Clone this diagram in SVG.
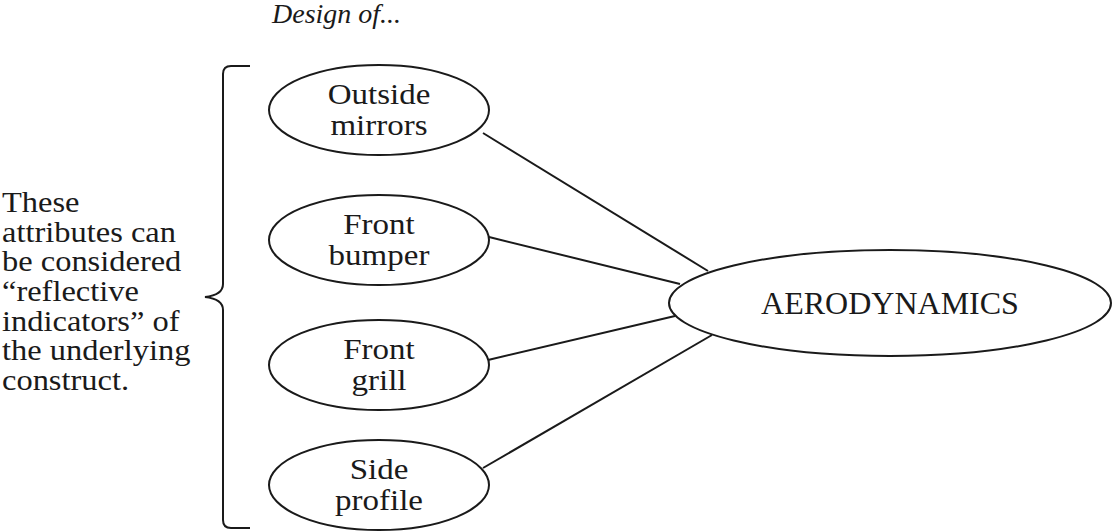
<svg xmlns="http://www.w3.org/2000/svg" width="1112" height="532" viewBox="0 0 1112 532">
<style>
.n{fill:#fff;stroke:#1a1a1a;stroke-width:2}
.t{font-family:"Liberation Serif",serif;font-size:30px;fill:#1a1a1a;text-anchor:middle}
.l{font-family:"Liberation Serif",serif;font-size:29px;fill:#1a1a1a}
.c{stroke:#1a1a1a;stroke-width:2;fill:none}
</style>
<rect width="1112" height="532" fill="#fff"/>
<text x="272" y="23" class="l" style="font-style:italic;font-size:28px">Design of...</text>
<g id="brace">
<path class="c" d="M250,66 L231,66 Q223,66 223,74 L223,284 Q223,295 205,297 Q223,299 223,310 L223,520 Q223,528 231,528 L250,528"/>
</g>
<g id="note" transform="translate(2 0) scale(1.12 1)">
<text class="l" x="0" y="212">These</text>
<text class="l" x="0" y="242">attributes can</text>
<text class="l" x="0" y="271">be considered</text>
<text class="l" x="0" y="301">“reflective</text>
<text class="l" x="0" y="331">indicators” of</text>
<text class="l" x="0" y="360">the underlying</text>
<text class="l" x="0" y="390">construct.</text>
</g>
<g id="connectors">
<line class="c" x1="483" y1="133" x2="708" y2="271"/>
<line class="c" x1="489" y1="237" x2="680" y2="284"/>
<line class="c" x1="488" y1="360" x2="675" y2="316"/>
<line class="c" x1="483" y1="468" x2="712" y2="335"/>
</g>
<g id="n1"><ellipse class="n" cx="379" cy="110" rx="110" ry="45"/><g transform="translate(379 0) scale(1.1 1)"><text class="t" x="0" y="104">Outside</text><text class="t" x="0" y="135">mirrors</text></g></g>
<g id="n2"><ellipse class="n" cx="379" cy="240" rx="110" ry="45"/><g transform="translate(379 0) scale(1.1 1)"><text class="t" x="0" y="234">Front</text><text class="t" x="0" y="265">bumper</text></g></g>
<g id="n3"><ellipse class="n" cx="379" cy="365" rx="110" ry="45"/><g transform="translate(379 0) scale(1.1 1)"><text class="t" x="0" y="359">Front</text><text class="t" x="0" y="390">grill</text></g></g>
<g id="n4"><ellipse class="n" cx="379" cy="485" rx="110" ry="45"/><g transform="translate(379 0) scale(1.1 1)"><text class="t" x="0" y="479">Side</text><text class="t" x="0" y="510">profile</text></g></g>
<g id="n5"><ellipse class="n" cx="890" cy="303" rx="221" ry="53"/><text class="t" x="890" y="314" style="font-size:32px">AERODYNAMICS</text></g>
</svg>
